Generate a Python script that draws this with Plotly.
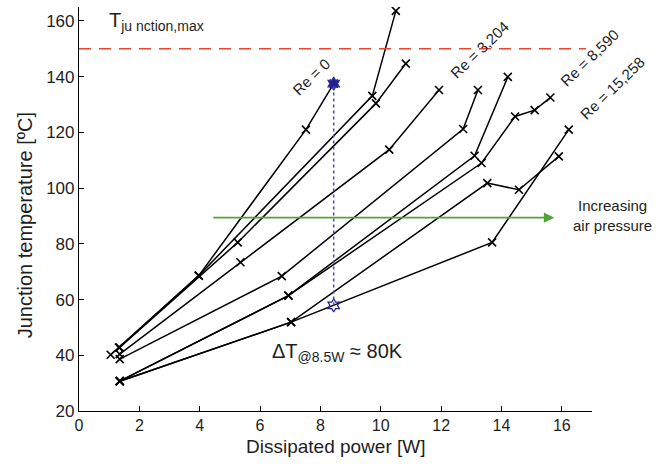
import plotly.graph_objects as go

# Series data (Dissipated power [W], Junction temperature [°C])
re0_x = [1.32, 3.97, 7.52, 8.44]
re0_y = [42.8, 68.6, 121.0, 137.5]

s2_x = [1.05, 3.97, 9.72, 10.50]
s2_y = [40.2, 68.6, 133.1, 163.6]

s3_x = [1.35, 5.26, 9.84, 10.83]
s3_y = [42.8, 80.5, 130.4, 144.7]

s4_x = [1.35, 5.35, 10.28, 11.93]
s4_y = [40.4, 73.4, 113.8, 135.2]

s5_x = [1.35, 6.72, 12.73, 13.22]
s5_y = [38.6, 68.4, 121.2, 135.2]

s6_x = [1.35, 6.94, 13.11, 14.21]
s6_y = [30.7, 61.4, 111.6, 139.9]

s7_x = [1.35, 6.94, 13.34, 14.45, 15.10, 15.62]
s7_y = [30.7, 61.4, 109.0, 125.7, 128.0, 132.5]

s8_x = [1.35, 7.03, 13.53, 14.58, 15.90]
s8_y = [30.7, 51.9, 101.8, 99.4, 111.4]

s9_x = [1.35, 7.03, 13.69, 16.23]
s9_y = [30.7, 51.9, 80.5, 121.0]

star_x = [8.44, 8.44]
star_y = [137.5, 57.9]

t_max = 150
x_ticks = [0, 2, 4, 6, 8, 10, 12, 14, 16]
y_ticks = [20, 40, 60, 80, 100, 120, 140, 160]

series = [(re0_x, re0_y), (s2_x, s2_y), (s3_x, s3_y), (s4_x, s4_y), (s5_x, s5_y),
          (s6_x, s6_y), (s7_x, s7_y), (s8_x, s8_y), (s9_x, s9_y)]

FONT = "Liberation Sans, Arial, sans-serif"
TXT = "#1e1e1e"

fig = go.Figure()

# reference lines
fig.add_shape(type="line", x0=0, x1=16.8, y0=t_max, y1=t_max, xref="x", yref="y",
              line=dict(color="#e8462c", width=1.6, dash="12px,8px"))
fig.add_shape(type="line", x0=star_x[0], x1=star_x[1], y0=star_y[1], y1=star_y[0],
              xref="x", yref="y", line=dict(color="#4848b8", width=1.5, dash="dot"))

for sx, sy in series:
    fig.add_trace(go.Scatter(
        x=sx, y=sy, mode="lines+markers",
        line=dict(color="black", width=1.5),
        marker=dict(symbol="x-thin", size=8, color="black",
                    line=dict(color="black", width=1.6)),
        showlegend=False, hoverinfo="skip"))

fig.add_trace(go.Scatter(
    x=star_x, y=star_y, mode="markers",
    marker=dict(symbol=["hexagram", "hexagram-open"], size=10, color="#20208a",
                line=dict(color="#30309a", width=1.2)),
    showlegend=False, hoverinfo="skip"))

ann = []
ann.append(dict(x=0.055, y=0.965, xref="paper", yref="paper", xanchor="left", yanchor="middle",
                text="T<sub>ju nction,max</sub>", showarrow=False,
                font=dict(size=20, color=TXT, family=FONT)))
for txt, tx, ty in [("Re = 0", 0.4536, 0.8275), ("Re = 3,204", 0.7817, 0.8936),
                    ("Re = 8,590", 0.9961, 0.8738), ("Re = 15,258", 1.0384, 0.7995)]:
    ann.append(dict(x=tx, y=ty, xref="paper", yref="paper", text=txt, showarrow=False,
                    xanchor="center", yanchor="middle",
                    textangle=-44, font=dict(size=15, color=TXT, family=FONT)))
ann.append(dict(x=15.75, y=89.4, ax=4.4, ay=89.4, xref="x", yref="y", axref="x", ayref="y",
                text="", showarrow=True, arrowhead=2, arrowsize=1.3, arrowwidth=1.6,
                arrowcolor="#52a535"))
ann.append(dict(x=1.039, y=0.485, xref="paper", yref="paper", text="Increasing<br>air pressure",
                xanchor="center", yanchor="middle",
                showarrow=False, font=dict(size=15, color=TXT, family=FONT)))
ann.append(dict(x=0.372, y=0.145, xref="paper", yref="paper", xanchor="left", yanchor="middle",
                text="ΔT<sub>@8.5W</sub> ≈ 80K", showarrow=False,
                font=dict(size=20, color=TXT, family=FONT)))
# axis titles
ann.append(dict(x=0.5, y=-0.088, xref="paper", yref="paper", xanchor="center", yanchor="middle",
                text="Dissipated power [W]", showarrow=False,
                font=dict(size=19, color=TXT, family=FONT)))
ann.append(dict(x=-0.105, y=0.46, xref="paper", yref="paper", xanchor="center", yanchor="middle",
                text="Junction temperature [ºC]", showarrow=False, textangle=-90,
                font=dict(size=20, color=TXT, family=FONT)))

fig.update_layout(
    width=665, height=464,
    margin=dict(l=79, r=73, t=7, b=53, autoexpand=False),
    plot_bgcolor="white", paper_bgcolor="white",
    font=dict(family=FONT, size=16, color=TXT),
    annotations=ann,
    xaxis=dict(range=[0, 17], tickvals=x_ticks, ticks="inside", ticklen=5,
               showline=True, linecolor="black", linewidth=1.2, tickcolor="black",
               showgrid=False, zeroline=False, automargin=False,
               tickfont=dict(size=16)),
    yaxis=dict(range=[20, 165], tickvals=y_ticks, ticks="inside", ticklen=5,
               showline=True, linecolor="black", linewidth=1.2, tickcolor="black",
               showgrid=False, zeroline=False, automargin=False,
               tickfont=dict(size=17)),
)

fig.write_html("out.html", config={"displayModeBar": False},
               post_script="document.body.style.margin='0';")
